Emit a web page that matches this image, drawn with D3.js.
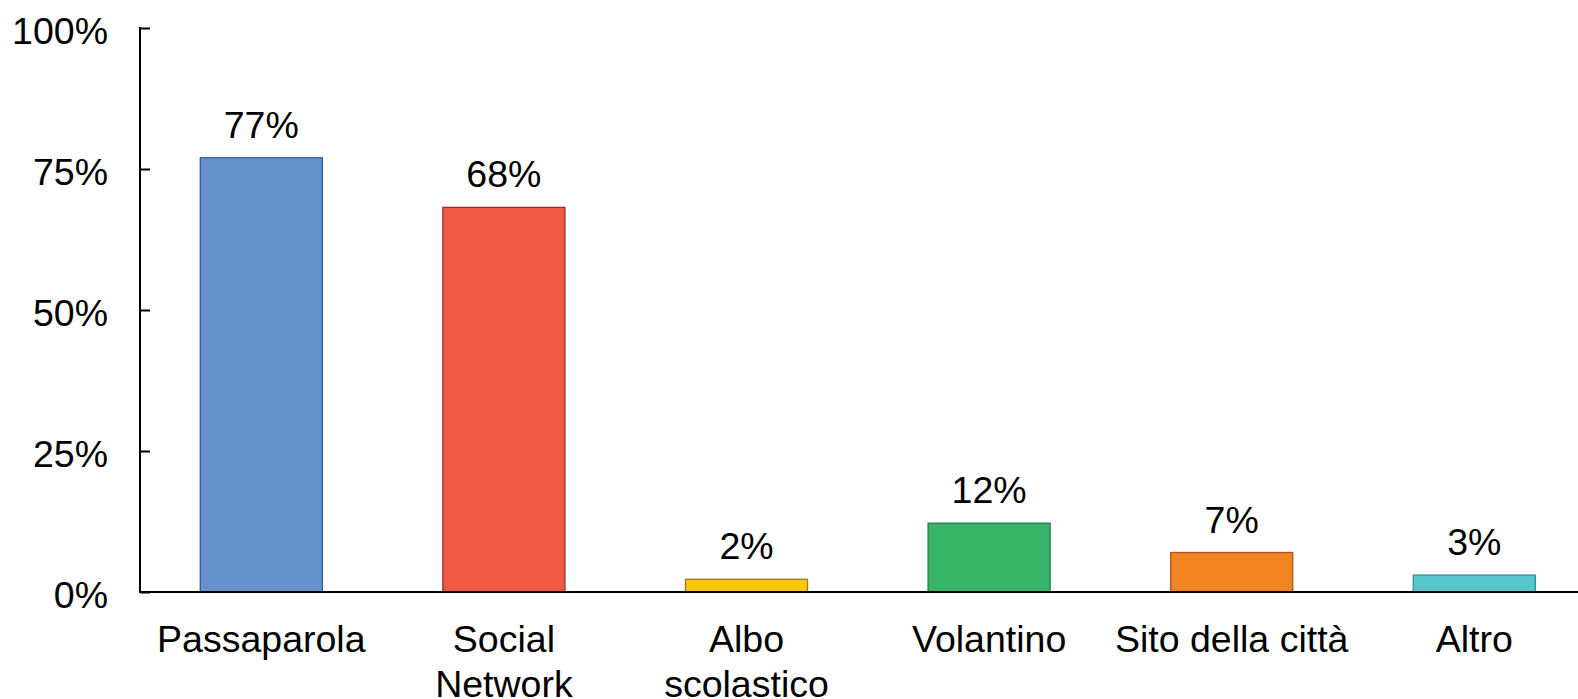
<!DOCTYPE html>
<html>
<head>
<meta charset="utf-8">
<script src="https://cdn.jsdelivr.net/npm/d3@7/dist/d3.min.js"></script>
<style>
html,body{margin:0;padding:0;background:#fff;}
svg{display:block;}
text{font-family:"Liberation Sans", Arial, sans-serif; fill:#000;}
</style>
</head>
<body>
<svg id="chart" width="1578" height="699"></svg>
<script>
const categories = ["Passaparola", "Social Network", "Albo scolastico", "Volantino", "Sito della città", "Altro"];
const categoryLines = [["Passaparola"], ["Social", "Network"], ["Albo", "scolastico"], ["Volantino"], ["Sito della città"], ["Altro"]];
const values = [0.77, 0.682, 0.0225, 0.122, 0.07, 0.03];
const valueLabels = ["77%", "68%", "2%", "12%", "7%", "3%"];
const fills = ["#6592CB", "#F05A44", "#FFC60B", "#38B468", "#F38423", "#55C6CE"];
const strokes = ["#2E5FA6", "#9A2C22", "#9C7B25", "#23794A", "#A7561E", "#2B8F96"];
const yTicks = [0, 0.25, 0.5, 0.75, 1];
const yTickLabels = ["0%", "25%", "50%", "75%", "100%"];

const svg = d3.select("#chart");
const x0 = 140, yTop = 28, yBottom = 592;

const x = d3.scaleBand().domain(categories).range([x0, x0 + 6 * 242.6]).paddingInner(0.497).paddingOuter(0.2485);
const y = d3.scaleLinear().domain([0, 1]).range([yBottom, yTop]);

// bars
svg.append("g").selectAll("rect").data(categories).join("rect")
  .attr("x", d => x(d))
  .attr("y", (d, i) => y(values[i]))
  .attr("width", x.bandwidth())
  .attr("height", (d, i) => y(0) - y(values[i]))
  .attr("fill", (d, i) => fills[i])
  .attr("stroke", (d, i) => strokes[i])
  .attr("stroke-width", 1.3);

// value labels
svg.append("g").selectAll("text").data(categories).join("text")
  .attr("x", d => x(d) + x.bandwidth() / 2)
  .attr("y", (d, i) => y(values[i]) - 20)
  .attr("text-anchor", "middle")
  .style("font-size", "37.5px")
  .text((d, i) => valueLabels[i]);

// y axis
const yAxis = d3.axisRight(y).tickValues(yTicks).tickSize(10).tickFormat("");
const gy = svg.append("g").attr("transform", `translate(${x0},0)`).call(yAxis);
gy.select(".domain").remove();
gy.selectAll(".tick line").attr("stroke", "#000").attr("stroke-width", 2);
svg.append("line").attr("x1", x0).attr("x2", x0).attr("y1", yTop - 1).attr("y2", yBottom + 1)
  .attr("stroke", "#000").attr("stroke-width", 2);

svg.append("g").selectAll("text").data(yTicks).join("text")
  .attr("x", 108)
  .attr("y", d => y(d) + 16)
  .attr("text-anchor", "end")
  .style("font-size", "37.5px")
  .text((d, i) => yTickLabels[i]);

// x axis baseline
svg.append("line").attr("x1", x0 - 1).attr("x2", 1578).attr("y1", yBottom).attr("y2", yBottom)
  .attr("stroke", "#000").attr("stroke-width", 2);

// category labels
const cl = svg.append("g").selectAll("text").data(categories).join("text")
  .attr("x", d => x(d) + x.bandwidth() / 2)
  .attr("y", 652)
  .attr("text-anchor", "middle")
  .style("font-size", "37.5px");
cl.each(function(d, i) {
  const t = d3.select(this);
  categoryLines[i].forEach((line, j) => {
    t.append("tspan").attr("x", x(d) + x.bandwidth() / 2).attr("dy", j === 0 ? 0 : 45).text(line);
  });
});
</script>
</body>
</html>
